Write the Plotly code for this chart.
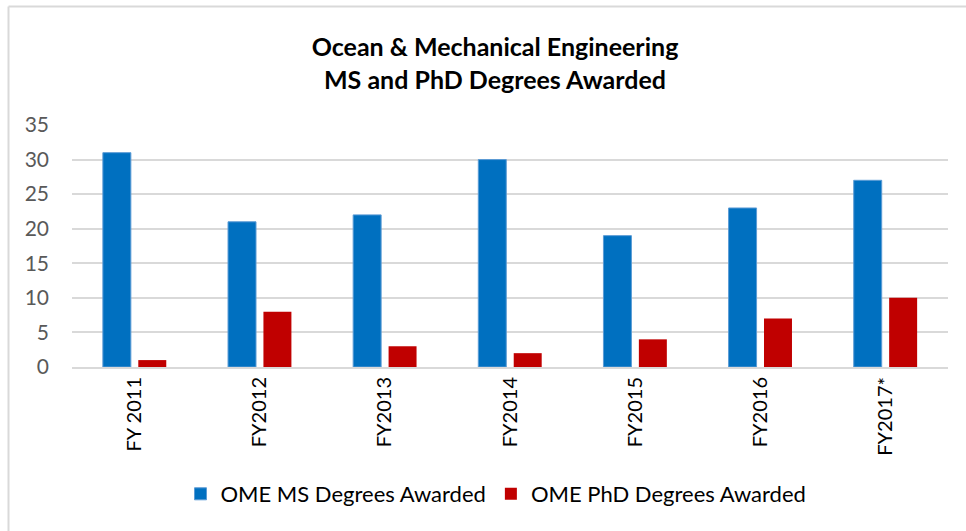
import plotly.graph_objects as go

fiscal_years = ["FY 2011", "FY2012", "FY2013", "FY2014", "FY2015", "FY2016", "FY2017*"]
ms_degrees = [31, 21, 22, 30, 19, 23, 27]
phd_degrees = [1, 8, 3, 2, 4, 7, 10]

W, H = 966, 531
L, R, T, B = 72, 18, 125, 164
pw, ph = W - L - R, H - T - B


def px_x(x):
    return (x - L) / pw


def px_y(y):
    return (H - B - y) / ph


font = "Lato, Open Sans, sans-serif"

fig = go.Figure()
fig.add_trace(go.Bar(
    x=fiscal_years, y=ms_degrees, name="OME MS Degrees Awarded",
    marker=dict(color="#0070C0", line=dict(color="#5B9BD5", width=1)),
))
fig.add_trace(go.Bar(
    x=fiscal_years, y=phd_degrees, name="OME PhD Degrees Awarded",
    marker=dict(color="#C00000", line=dict(width=0)),
))

# chart-area frame (top and left edges)
frame = dict(color="#D9D9D9", width=2)
fig.add_shape(type="line", xref="paper", yref="paper",
              x0=px_x(8.5), x1=px_x(W + 5), y0=px_y(6.5), y1=px_y(6.5), line=frame)
fig.add_shape(type="line", xref="paper", yref="paper",
              x0=px_x(8.5), x1=px_x(8.5), y0=px_y(6.5), y1=px_y(H + 5), line=frame)

fig.update_layout(
    width=W, height=H,
    margin=dict(l=L, r=R, t=T, b=B),
    paper_bgcolor="white", plot_bgcolor="white",
    barmode="group", bargap=0.434, bargroupgap=0.21,
    title=dict(
        text="<b>Ocean &amp; Mechanical Engineering</b><br><b>MS and PhD Degrees Awarded</b>",
        xref="container", x=495 / W, xanchor="center",
        yref="container", y=1 - 56 / H, yanchor="middle",
        font=dict(family=font, size=25, color="#000000"),
    ),
    font=dict(family=font),
    xaxis=dict(
        tickangle=-90, tickfont=dict(size=20, color="#000000"),
        showline=True, linecolor="#D9D9D9", linewidth=2,
        ticks="", showgrid=False,
    ),
    yaxis=dict(
        range=[0, 35], dtick=5, tickfont=dict(size=21, color="#595959"),
        showgrid=True, gridcolor="#D9D9D9", gridwidth=2,
        zeroline=False, ticks="", ticklabelstandoff=22,
    ),
    legend=dict(
        orientation="h", x=px_x(496), xanchor="center",
        y=px_y(494), yanchor="middle",
        font=dict(size=22, color="#000000"),
        itemwidth=30, tracegroupgap=0,
    ),
)

fig.write_html("out.html")
